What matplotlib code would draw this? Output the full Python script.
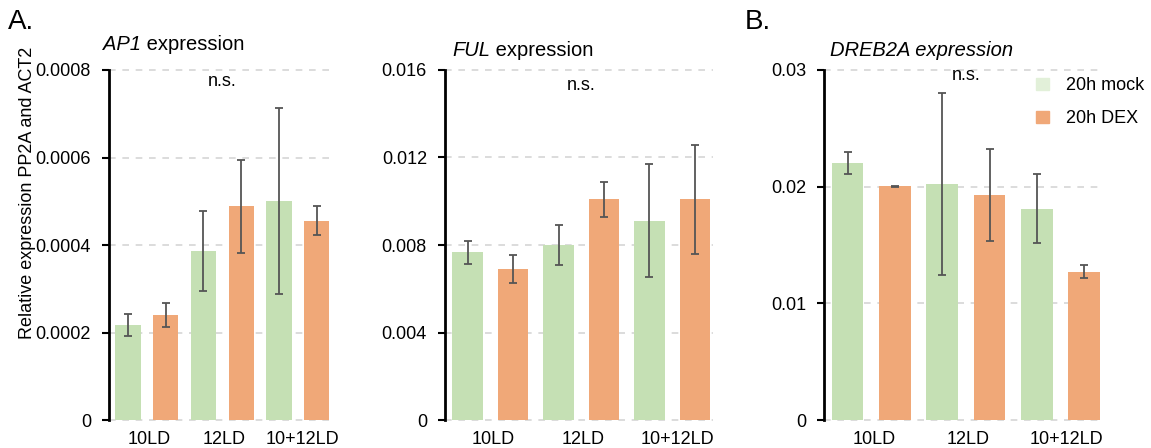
import matplotlib.pyplot as plt
import numpy as np
from matplotlib.patches import Patch

plt.rcParams['font.family'] = ['Liberation Sans', 'DejaVu Sans']
plt.rcParams['font.size'] = 13

groups = ['10LD', '12LD', '10+12LD']

# AP1
ap1_mock = [0.000217, 0.000386, 0.000501]
ap1_mock_err = [0.000025, 0.000092, 0.000212]
ap1_dex = [0.000240, 0.000488, 0.000455]
ap1_dex_err = [0.000027, 0.000107, 0.000033]

# FUL
ful_mock = [0.00767, 0.00800, 0.00910]
ful_mock_err = [0.00053, 0.00093, 0.00258]
ful_dex = [0.00690, 0.01009, 0.01009]
ful_dex_err = [0.00062, 0.00081, 0.00250]

# DREB2A
dreb_mock = [0.02206, 0.02020, 0.01809]
dreb_mock_err = [0.00095, 0.00780, 0.00296]
dreb_dex = [0.02003, 0.01929, 0.01271]
dreb_dex_err = [0.00005, 0.00396, 0.00055]

green = '#C5E0B4'
orange = '#F0A878'
legend_green = '#E2F0D9'

fig = plt.figure(figsize=(11.51, 4.48), dpi=100)

panels = [
    # left, width, mock, mock_err, dex, dex_err, ymax, ticks, ticklabels, ns_y
    (0.0947, 0.1937, ap1_mock, ap1_mock_err, ap1_dex, ap1_dex_err, 0.0008,
     [0, 0.0002, 0.0004, 0.0006, 0.0008], ['0', '0.0002', '0.0004', '0.0006', '0.0008'], 0.000773),
    (0.3866, 0.2328, ful_mock, ful_mock_err, ful_dex, ful_dex_err, 0.016,
     [0, 0.004, 0.008, 0.012, 0.016], ['0', '0.004', '0.008', '0.012', '0.016'], 0.01531),
    (0.7159, 0.2424, dreb_mock, dreb_mock_err, dreb_dex, dreb_dex_err, 0.03,
     [0, 0.01, 0.02, 0.03], ['0', '0.01', '0.02', '0.03'], 0.02957),
]

x = np.arange(len(groups))
width = 0.335
axes = []
for left, w, mock, mock_err, dex, dex_err, ymax, ticks, labels, ns_y in panels:
    ax = fig.add_axes([left, 0.0625, w, 0.78125])
    ax.bar(x - 0.25, mock, width, color=green, zorder=2)
    ax.bar(x + 0.25, dex, width, color=orange, zorder=2)
    ax.errorbar(x - 0.25, mock, yerr=mock_err, fmt='none', ecolor='#555555',
                elinewidth=1.3, capsize=3, capthick=1.3, zorder=3)
    ax.errorbar(x + 0.25, dex, yerr=dex_err, fmt='none', ecolor='#555555',
                elinewidth=1.3, capsize=3, capthick=1.3, zorder=3)
    ax.set_xlim(-0.5, 2.45)
    ax.set_ylim(0, ymax)
    ax.set_yticks(ticks)
    ax.set_yticklabels(labels)
    for t in ticks:
        ax.axhline(t, color='#D6D6D6', lw=1.2, ls=(0, (4, 4)), zorder=1,
                   clip_on=False)
    # labels sit a touch right of the group centres, as in the original
    ax.set_xticks(x + np.array([0.03, 0.02, 0.06]))
    ax.set_xticklabels(groups)
    ax.tick_params(axis='x', length=0, pad=8)
    ax.tick_params(axis='y', length=5, width=1.5, direction='out', pad=8)
    for s in ['top', 'right', 'bottom']:
        ax.spines[s].set_visible(False)
    ax.spines['left'].set_linewidth(2)
    ax.text(1, ns_y, 'n.s.', ha='center', va='center')
    axes.append(ax)

ax1, ax2, ax3 = axes

# panel titles: italic gene name followed by plain "expression"
for gx, gy, gene in [(103, 44, 'AP1'), (452, 50, 'FUL')]:
    t = fig.text(gx / 1151, 1 - gy / 448, gene, style='italic', fontsize=14.5,
                 ha='left', va='center')
    fig.add_artist(plt.Annotation(' expression', xy=(1, 0), xycoords=t,
                                  fontsize=14.5, ha='left', va='bottom'))

fig.text(830 / 1151, 1 - 50 / 448, 'DREB2A expression', style='italic',
         fontsize=14.5, ha='left', va='center')

fig.text(8 / 1151, 1 - 22 / 448, 'A.', fontsize=20, ha='left', va='center')
fig.text(745 / 1151, 1 - 22 / 448, 'B.', fontsize=20, ha='left', va='center')

fig.text(28 / 1151, 1 - 193 / 448, 'Relative expression PP2A and ACT2',
         rotation=90, ha='center', va='center')

handles = [Patch(color=legend_green, label='20h mock'),
           Patch(color=orange, label='20h DEX')]
ax3.legend(handles=handles, loc='upper right', bbox_to_anchor=(1.205, 1.026),
           frameon=False, handlelength=0.68, handleheight=0.68,
           handletextpad=0.95, labelspacing=0.9)

fig.savefig('out.png', dpi=100)
